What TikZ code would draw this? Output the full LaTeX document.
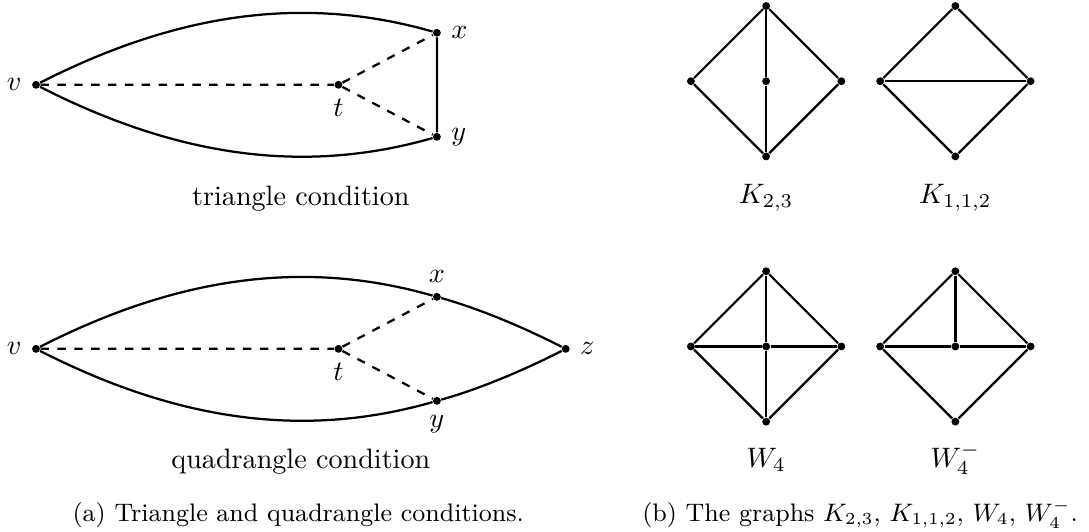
\documentclass[tikz,border=0pt]{standalone}
\usepackage{amsmath}
\usepackage{tikz}
\usetikzlibrary{calc}

\begin{document}
\begin{tikzpicture}[>=latex]
	\tikzstyle{vertex}=[circle,fill,inner sep=0pt,minimum size=2.8pt]
	\tikzstyle{edge}=[thick]
	\tikzstyle{trail}=[thick,dashed]
	\tikzstyle{caption}=[anchor=base west,inner sep=0pt,font=\small]

	\newcommand{\DiamondGraph}[2]{
		\node (#1n) [vertex] at ($(#2)+(0,0.94)$) {};
		\node (#1w) [vertex] at ($(#2)+(-0.94,0)$) {};
		\node (#1e) [vertex] at ($(#2)+(0.94,0)$) {};
		\node (#1s) [vertex] at ($(#2)+(0,-0.94)$) {};
		\draw [edge] (#1n) -- (#1w) -- (#1s) -- (#1e) -- (#1n);
	}

	\useasboundingbox (0,0) rectangle (13.61,6.64);

	% triangle condition
	\node (v1) [vertex, label=left:{$v$}] at (0.45,5.58) {};
	\node (t1) [vertex, label=below:{$t$}] at (4.23,5.58) {};
	\node (x1) [vertex, label=right:{$x$}] at (5.46,6.23) {};
	\node (y1) [vertex, label=right:{$y$}] at (5.46,4.93) {};

	\draw [edge] (v1) .. controls +(27:1.97) and +(164:1.74) .. (x1) -- (y1) .. controls +(-164:1.74) and +(-27:1.97) .. (v1);
	\draw [trail] (v1) -- (t1) -- (x1);
	\draw [trail] (t1) -- (y1);

	\node (tri) [anchor=base] at (3.76,4.075) {triangle condition};

	% quadrangle condition
	\node (v2) [vertex, label=left:{$v$}] at (0.45,2.28) {};
	\node (t2) [vertex, label=below:{$t$}] at (4.23,2.28) {};
	\node (x2) [vertex, label=above:{$x$}] at (5.46,2.93) {};
	\node (y2) [vertex, label=below:{$y$}] at (5.46,1.63) {};
	\node (z2) [vertex, label=right:{$z$}] at (7.07,2.28) {};

	\draw [edge] (v2) .. controls +(27:1.97) and +(164:1.74) .. (x2) .. controls +(-15.6:0.54) and +(153:0.61) .. (z2)
		.. controls +(-153:0.61) and +(15.6:0.54) .. (y2) .. controls +(-164:1.74) and +(-27:1.97) .. (v2);
	\draw [trail] (v2) -- (t2) -- (x2);
	\draw [trail] (t2) -- (y2);

	\node (quad) [anchor=base] at (3.76,0.79) {quadrangle condition};

	% small graphs
	\DiamondGraph{ka}{9.575,5.625}
	\node (kac) [vertex] at (9.575,5.625) {};
	\draw [edge] (kan) -- (kac) -- (kas);

	\DiamondGraph{kb}{11.94,5.625}
	\draw [edge] (kbw) -- (kbe);

	\DiamondGraph{wa}{9.575,2.31}
	\node (wac) [vertex] at (9.575,2.31) {};
	\draw [edge] (wan) -- (wac) -- (was) (waw) -- (wac) -- (wae);

	\DiamondGraph{wb}{11.94,2.31}
	\node (wbc) [vertex] at (11.94,2.31) {};
	\draw [edge] (wbw) -- (wbc) -- (wbe) (wbn) -- (wbc);

	\node (kal) [anchor=base] at (9.575,4.1) {$K_{2,3}$};
	\node (kbl) [anchor=base] at (11.94,4.1) {$K_{1,1,2}$};
	\node (wal) [anchor=base] at (9.575,0.8) {$W_4$};
	\node (wbl) [anchor=base] at (11.94,0.8) {$W_4^-$};

	% captions
	\node (capa) [caption] at (0.9,0.12) {(a) Triangle and quadrangle conditions.};
	\node (capb) [caption] at (8.02,0.12) {(b) The graphs $K_{2,3}$, $K_{1,1,2}$, $W_4$, $W_4^-$.};
\end{tikzpicture}
\end{document}
